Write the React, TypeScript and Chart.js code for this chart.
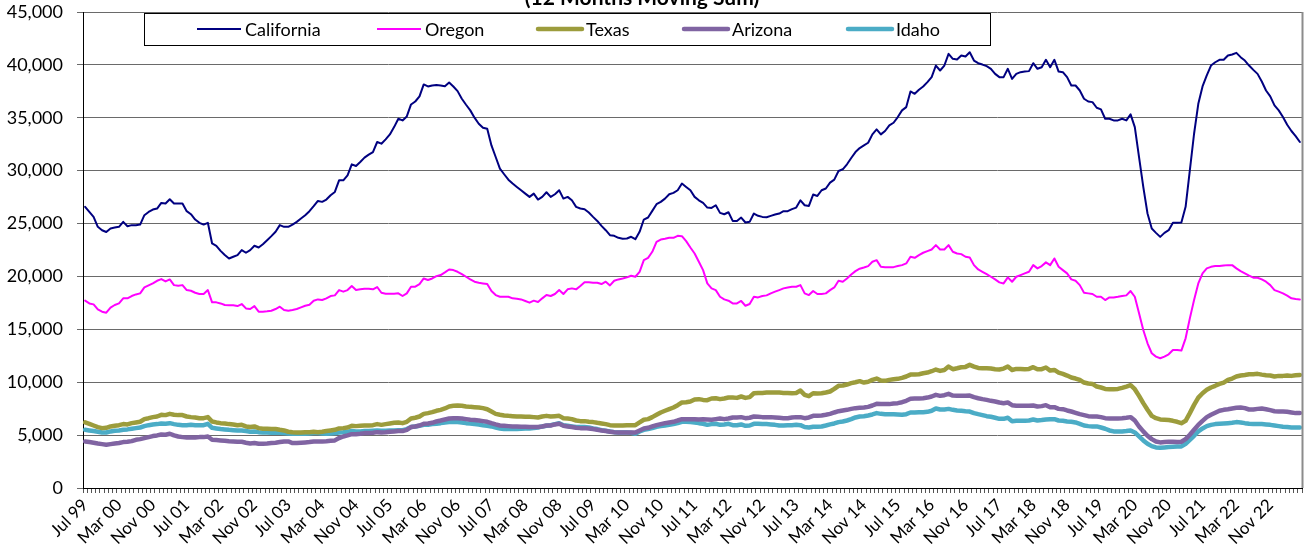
import { useEffect, useRef } from 'react';
import Chart from 'chart.js/auto';

const MONTH_NAMES = ['Jan', 'Feb', 'Mar', 'Apr', 'May', 'Jun', 'Jul', 'Aug', 'Sep', 'Oct', 'Nov', 'Dec'];
const START_YEAR = 1999;
const START_MONTH = 6; // Jul
const LABEL_EVERY = 8;

const TITLE = '(12 Months Moving Sum)';
const SERIES_NAMES = ['California', 'Oregon', 'Texas', 'Arizona', 'Idaho'];
const Y_MAX = 45000;
const Y_STEP = 5000;

const california = [
  26580, 26100, 25630, 24690, 24370, 24200, 24530, 24620, 24690, 25160, 24750, 24850, 24850, 24900, 25790, 26100, 26320, 26420, 26950, 26890, 27300, 26890, 26890, 26890, 26170, 25880, 25380, 25070, 24900, 25070, 23120, 22900, 22420, 22020, 21700, 21860, 22020, 22490, 22240, 22490, 22900, 22740, 23050, 23430, 23810, 24220, 24850, 24690,
  24690, 24900, 25160, 25470, 25790, 26170, 26640, 27140, 27050, 27270, 27680, 27990, 29090, 29090, 29560, 30600, 30440, 30820, 31230, 31510, 31760, 32710, 32550, 32960, 33430, 34120, 34910, 34750, 35130, 36260, 36540, 37020, 38150, 37960, 38050, 38090, 38050, 37990, 38340, 37960, 37520, 36800, 36230, 35700, 35010, 34440, 34060, 33970,
  32390, 31290, 30190, 29660, 29150, 28780, 28460, 28150, 27830, 27520, 27830, 27270, 27520, 27960, 27520, 27770, 28150, 27360, 27520, 27200, 26580, 26420, 26360, 26040, 25630, 25250, 24780, 24370, 23900, 23840, 23650, 23560, 23590, 23750, 23520, 24220, 25380, 25570, 26200, 26830, 27050, 27360, 27770, 27900, 28150, 28780, 28460, 28150,
  27520, 27200, 26950, 26510, 26480, 26730, 26010, 25880, 26070, 25250, 25250, 25570, 25100, 25160, 25950, 25730, 25630, 25600, 25730, 25850, 25950, 26170, 26170, 26360, 26510, 27200, 26730, 26670, 27740, 27610, 28150, 28310, 28870, 29150, 29970, 30130, 30600, 31200, 31760, 32140, 32390, 32640, 33430, 33900, 33430, 33750, 34280, 34530,
  35070, 35700, 36010, 37490, 37270, 37650, 37960, 38370, 38840, 39940, 39470, 39940, 41040, 40570, 40510, 40890, 40790, 41200, 40410, 40160, 40030, 39880, 39630, 39150, 38840, 38840, 39630, 38680, 39150, 39310, 39370, 39410, 40160, 39630, 39780, 40480, 39780, 40480, 39370, 39310, 38840, 38050, 38050, 37580, 36800, 36540, 36480,
  35950, 35790, 34910, 34910, 34750, 34750, 34910, 34750, 35320, 34120, 31290, 28460, 25950, 24530, 24120, 23740, 24120, 24370, 25070, 25070, 25100, 26580, 30030, 33490, 36320, 37960, 39000, 39940, 40250, 40480, 40480, 40890, 40980, 41140, 40730, 40410, 39940, 39530, 39150, 38430, 37580, 37020, 36170, 35700, 35070, 34340, 33750, 33270, 32710,
];

const oregon = [
  17710, 17450, 17360, 16890, 16670, 16570, 17050, 17300, 17450, 17930, 17930, 18150, 18300, 18400, 18960, 19150, 19340, 19590, 19750, 19530, 19720, 19180, 19120, 19180, 18710, 18650, 18460, 18340, 18340, 18710, 17550, 17550, 17450, 17300, 17270, 17270, 17200, 17390, 16980, 16920, 17200, 16670, 16670, 16700, 16760, 16920, 17140, 16830,
  16760, 16830, 16920, 17080, 17230, 17330, 17710, 17830, 17770, 17930, 18150, 18210, 18710, 18560, 18710, 19090, 18710, 18780, 18840, 18840, 18780, 19000, 18460, 18370, 18370, 18370, 18400, 18150, 18400, 19030, 19030, 19280, 19810, 19660, 19810, 20030, 20130, 20380, 20660, 20600, 20440, 20220, 19970, 19720, 19500, 19400, 19340, 19280,
  18620, 18240, 18080, 18080, 18080, 17930, 17900, 17830, 17680, 17520, 17710, 17580, 17930, 18240, 18150, 18340, 18710, 18340, 18780, 18870, 18780, 19090, 19440, 19440, 19400, 19400, 19280, 19500, 19150, 19590, 19720, 19810, 19910, 20070, 19970, 20440, 21540, 21760, 22330, 23270, 23490, 23560, 23650, 23650, 23840, 23810, 23340, 22740,
  22170, 21390, 20600, 19340, 18870, 18710, 18080, 17830, 17710, 17450, 17450, 17680, 17230, 17390, 18080, 18020, 18150, 18210, 18400, 18560, 18710, 18870, 18960, 19030, 19030, 19180, 18400, 18240, 18620, 18340, 18340, 18400, 18710, 18960, 19590, 19500, 19810, 20190, 20500, 20730, 20850, 20980, 21390, 21540, 20910, 20880, 20880, 20880,
  20980, 21070, 21230, 21860, 21760, 22020, 22240, 22390, 22550, 22960, 22550, 22550, 22960, 22330, 22170, 22110, 21860, 21800, 21070, 20660, 20440, 20220, 19970, 19720, 19440, 19340, 19910, 19500, 19970, 20130, 20290, 20440, 21070, 20760, 20980, 21330, 21070, 21700, 20910, 20600, 20290, 19720, 19590, 19180, 18460, 18400, 18340,
  18080, 18080, 17770, 18020, 18020, 18080, 18150, 18210, 18620, 18080, 16510, 14940, 13680, 12740, 12420, 12270, 12420, 12640, 13050, 13050, 12990, 14150, 16040, 17770, 19340, 20290, 20760, 20910, 20980, 20980, 21040, 21070, 21070, 20760, 20500, 20290, 20070, 19880, 19880, 19720, 19500, 19180, 18710, 18560, 18400, 18180, 17930, 17860, 17830,
];

const texas = [
  6200, 6070, 5910, 5760, 5660, 5690, 5820, 5880, 5940, 6040, 6010, 6130, 6200, 6260, 6510, 6600, 6700, 6760, 6920, 6890, 7010, 6920, 6890, 6890, 6760, 6700, 6670, 6600, 6600, 6700, 6290, 6200, 6130, 6100, 6040, 6010, 5940, 5970, 5820, 5760, 5820, 5660, 5600, 5600, 5570, 5570, 5500, 5440,
  5320, 5280, 5250, 5250, 5280, 5280, 5320, 5280, 5320, 5380, 5440, 5500, 5630, 5660, 5720, 5880, 5850, 5880, 5910, 5910, 5940, 6040, 5970, 6040, 6100, 6160, 6200, 6130, 6260, 6570, 6640, 6760, 7010, 7080, 7170, 7300, 7390, 7520, 7710, 7770, 7800, 7770, 7710, 7670, 7640, 7610, 7550, 7450,
  7230, 7010, 6920, 6860, 6820, 6790, 6760, 6760, 6730, 6730, 6700, 6670, 6760, 6820, 6760, 6790, 6820, 6600, 6570, 6510, 6380, 6320, 6320, 6260, 6230, 6160, 6100, 6040, 5940, 5910, 5910, 5910, 5940, 5940, 5940, 6200, 6450, 6510, 6700, 6920, 7140, 7300, 7450, 7610, 7830, 8080, 8110, 8180,
  8370, 8400, 8330, 8300, 8460, 8490, 8400, 8460, 8550, 8550, 8520, 8650, 8520, 8590, 8960, 8990, 8990, 9030, 9030, 9030, 9030, 8990, 8990, 8960, 8990, 9210, 8810, 8680, 8960, 8930, 8960, 9030, 9120, 9370, 9660, 9690, 9780, 9910, 10000, 10100, 9970, 10040, 10220, 10350, 10160, 10130, 10220, 10280,
  10320, 10410, 10540, 10720, 10720, 10760, 10850, 10910, 11040, 11200, 11070, 11160, 11480, 11230, 11320, 11420, 11450, 11640, 11480, 11350, 11320, 11320, 11290, 11230, 11200, 11290, 11480, 11160, 11260, 11260, 11230, 11260, 11420, 11230, 11230, 11390, 11100, 11160, 10910, 10790, 10630, 10440, 10350, 10220, 9970, 9880, 9840,
  9590, 9500, 9370, 9340, 9340, 9370, 9470, 9590, 9720, 9340, 8710, 8020, 7390, 6820, 6600, 6480, 6450, 6420, 6350, 6260, 6130, 6350, 7080, 7860, 8550, 8960, 9280, 9500, 9660, 9840, 9970, 10220, 10350, 10540, 10630, 10690, 10760, 10760, 10790, 10720, 10660, 10630, 10540, 10600, 10600, 10630, 10600, 10660, 10690,
];

const arizona = [
  4400, 4340, 4280, 4210, 4150, 4090, 4150, 4210, 4250, 4340, 4370, 4430, 4560, 4620, 4720, 4810, 4910, 4970, 5060, 5030, 5130, 4970, 4870, 4810, 4780, 4780, 4780, 4810, 4810, 4870, 4560, 4530, 4500, 4470, 4430, 4400, 4370, 4370, 4280, 4210, 4250, 4180, 4180, 4210, 4250, 4280, 4340, 4400,
  4400, 4250, 4250, 4280, 4310, 4340, 4400, 4400, 4400, 4430, 4470, 4500, 4720, 4870, 4970, 5090, 5090, 5130, 5190, 5190, 5220, 5280, 5250, 5280, 5320, 5350, 5380, 5380, 5500, 5760, 5820, 5910, 6070, 6100, 6160, 6290, 6380, 6480, 6570, 6600, 6600, 6570, 6510, 6450, 6420, 6380, 6320, 6260,
  6130, 6010, 5910, 5880, 5850, 5820, 5820, 5790, 5790, 5760, 5760, 5760, 5820, 5910, 5910, 6010, 6070, 5880, 5820, 5760, 5690, 5660, 5660, 5630, 5570, 5500, 5440, 5380, 5320, 5280, 5250, 5250, 5250, 5250, 5250, 5440, 5630, 5690, 5820, 5940, 6040, 6130, 6200, 6260, 6380, 6510, 6510, 6510,
  6510, 6480, 6510, 6480, 6450, 6510, 6570, 6510, 6570, 6670, 6670, 6700, 6600, 6640, 6760, 6730, 6700, 6700, 6700, 6670, 6640, 6600, 6600, 6670, 6700, 6700, 6600, 6670, 6820, 6820, 6860, 6920, 7010, 7140, 7260, 7330, 7390, 7480, 7550, 7580, 7610, 7670, 7800, 7960, 7930, 7930, 7930, 7990,
  8020, 8110, 8240, 8430, 8460, 8460, 8490, 8550, 8650, 8810, 8710, 8770, 8900, 8740, 8710, 8710, 8710, 8740, 8590, 8490, 8400, 8330, 8240, 8180, 8080, 8020, 8080, 7830, 7770, 7770, 7770, 7770, 7800, 7710, 7740, 7830, 7640, 7640, 7480, 7450, 7330, 7230, 7110, 6980, 6890, 6790, 6760,
  6760, 6700, 6600, 6570, 6570, 6570, 6600, 6640, 6700, 6380, 5820, 5350, 4940, 4620, 4400, 4310, 4340, 4370, 4370, 4340, 4370, 4620, 5030, 5500, 5970, 6350, 6700, 6920, 7110, 7300, 7390, 7450, 7520, 7580, 7610, 7550, 7420, 7420, 7480, 7520, 7450, 7360, 7260, 7230, 7230, 7200, 7140, 7080, 7080,
];

const idaho = [
  5500, 5440, 5380, 5320, 5250, 5250, 5350, 5410, 5440, 5500, 5540, 5600, 5660, 5720, 5850, 5940, 6010, 6040, 6100, 6070, 6130, 6040, 5970, 5940, 5940, 5970, 5940, 5940, 5940, 6070, 5690, 5630, 5570, 5540, 5500, 5470, 5440, 5440, 5380, 5320, 5350, 5280, 5250, 5250, 5220, 5220, 5220, 5190,
  5160, 5130, 5130, 5130, 5130, 5160, 5190, 5190, 5160, 5130, 5160, 5190, 5250, 5280, 5320, 5380, 5350, 5350, 5380, 5380, 5410, 5440, 5410, 5410, 5440, 5440, 5470, 5470, 5570, 5760, 5820, 5880, 5970, 5970, 6040, 6070, 6130, 6200, 6230, 6230, 6230, 6200, 6130, 6100, 6040, 6010, 5940, 5880,
  5820, 5720, 5630, 5570, 5570, 5570, 5570, 5600, 5630, 5630, 5660, 5720, 5820, 5880, 5940, 6040, 6130, 5940, 5880, 5820, 5760, 5760, 5760, 5720, 5630, 5570, 5470, 5410, 5350, 5280, 5250, 5250, 5250, 5220, 5130, 5350, 5500, 5570, 5660, 5790, 5850, 5910, 5970, 6040, 6130, 6260, 6260, 6230,
  6200, 6130, 6070, 5970, 6040, 6070, 5970, 6010, 6070, 5940, 5940, 6010, 5880, 5910, 6070, 6070, 6040, 6040, 6010, 5970, 5910, 5910, 5940, 5940, 5970, 5940, 5760, 5720, 5790, 5790, 5820, 5910, 6010, 6100, 6230, 6290, 6380, 6510, 6670, 6760, 6790, 6860, 6950, 7080, 7010, 6980, 6980, 6980,
  6950, 6920, 6980, 7140, 7140, 7170, 7170, 7200, 7300, 7520, 7420, 7420, 7480, 7390, 7330, 7300, 7260, 7230, 7080, 6980, 6890, 6790, 6730, 6640, 6540, 6540, 6640, 6320, 6350, 6350, 6350, 6380, 6480, 6380, 6420, 6480, 6510, 6510, 6380, 6350, 6290, 6260, 6200, 6070, 5910, 5850, 5820,
  5820, 5720, 5600, 5440, 5350, 5350, 5350, 5380, 5440, 5250, 4870, 4500, 4180, 3960, 3840, 3810, 3840, 3870, 3900, 3930, 3930, 4180, 4560, 4940, 5350, 5630, 5850, 5970, 6040, 6070, 6100, 6130, 6160, 6230, 6200, 6130, 6070, 6040, 6040, 6040, 6010, 5970, 5910, 5850, 5790, 5760, 5720, 5720, 5720,
];

const categories: string[] = california.map((_, i) => {
  const m = (START_MONTH + i) % 12;
  const y = START_YEAR + Math.floor((START_MONTH + i) / 12);
  return `${MONTH_NAMES[m]} ${String(y % 100).padStart(2, '0')}`;
});

const COLORS = ['#000080', '#FF00FF', '#9C9C3C', '#8064A2', '#4BACC6'];
const WIDTHS = [2, 2, 4.5, 4.5, 4.5];
const FONT = 'Lato';

export default function App() {
  const ref = useRef<HTMLCanvasElement | null>(null);

  useEffect(() => {
    if (!ref.current) return;
    const seriesData = [california, oregon, texas, arizona, idaho];

    const overlay = {
      id: 'overlay',
      afterDraw(chart: any) {
        const { ctx, chartArea } = chart;
        ctx.save();
        // right plot border
        ctx.strokeStyle = '#8c8c8c';
        ctx.lineWidth = 2;
        ctx.beginPath();
        ctx.moveTo(chartArea.right + 0.5, chartArea.top);
        ctx.lineTo(chartArea.right + 0.5, chartArea.bottom);
        ctx.stroke();

        // clipped title
        ctx.fillStyle = '#000';
        ctx.font = `bold 21px ${FONT}`;
        ctx.textAlign = 'center';
        ctx.textBaseline = 'alphabetic';
        ctx.fillText(TITLE, 642, 5);

        // legend box
        const bx = 144, by = 13, bw = 846, bh = 32;
        ctx.fillStyle = '#fff';
        ctx.fillRect(bx, by, bw, bh);
        ctx.strokeStyle = '#000';
        ctx.lineWidth = 1;
        ctx.strokeRect(bx + 0.5, by + 0.5, bw, bh);

        const itemX = [197, 377, 538, 684, 848];
        const cy = 29;
        ctx.font = `18px ${FONT}`;
        ctx.textAlign = 'left';
        ctx.textBaseline = 'middle';
        SERIES_NAMES.forEach((name, k) => {
          ctx.strokeStyle = COLORS[k];
          ctx.lineWidth = WIDTHS[k];
          ctx.lineCap = k >= 2 ? 'round' : 'butt';
          ctx.beginPath();
          ctx.moveTo(itemX[k], cy);
          ctx.lineTo(itemX[k] + 44, cy);
          ctx.stroke();
          ctx.fillStyle = '#000';
          ctx.fillText(name, itemX[k] + 48, cy + 1);
        });
        ctx.restore();
      },
    };

    const chart = new Chart(ref.current, {
      type: 'line',
      data: {
        labels: categories,
        datasets: SERIES_NAMES.map((name, k) => ({
          label: name,
          data: seriesData[k],
          borderColor: COLORS[k],
          backgroundColor: COLORS[k],
          borderWidth: WIDTHS[k],
          pointRadius: 0,
          pointHoverRadius: 0,
          tension: 0,
          fill: false,
          borderJoinStyle: 'round' as const,
          borderCapStyle: 'round' as const,
        })),
      },
      options: {
        animation: false,
        responsive: true,
        maintainAspectRatio: false,
        layout: { padding: { top: 12, right: 11, left: 0, bottom: 0 } },
        plugins: {
          legend: { display: false },
          title: { display: false },
          tooltip: { enabled: false },
        },
        events: [],
        scales: {
          x: {
            type: 'category',
            offset: true,
            ticks: {
              autoSkip: false,
              maxRotation: 45,
              minRotation: 45,
              color: '#000',
              padding: 2,
              font: { family: FONT, size: 17 },
              callback: (_v: any, i: number) => (i % LABEL_EVERY === 0 ? categories[i] : ''),
            },
            grid: {
              drawOnChartArea: false,
              offset: true,
              tickLength: 5,
              color: '#555',
              lineWidth: 1,
            },
            border: { color: '#000', width: 1 },
            afterFit: (s: any) => {
              s.height = 68;
              s.paddingLeft = 0;
              s.paddingRight = 0;
              s.paddingTop = 0;
              s.paddingBottom = 0;
            },
          },
          y: {
            min: 0,
            max: Y_MAX,
            ticks: {
              stepSize: Y_STEP,
              color: '#000',
              padding: 14,
              font: { family: FONT, size: 18 },
              callback: (v: any) => Number(v).toLocaleString('en-US'),
            },
            grid: { color: '#6a6a6a', lineWidth: 1, tickLength: 6 },
            border: { color: '#000', width: 1 },
            afterFit: (s: any) => {
              s.width = 83;
              s.paddingTop = 0;
              s.paddingBottom = 0;
              s.paddingLeft = 0;
              s.paddingRight = 0;
            },
          },
        },
      },
      plugins: [overlay],
    });

    return () => chart.destroy();
  }, []);

  return (
    <div style={{ position: 'absolute', left: 0, top: 0, width: 1313, height: 556, background: '#fff' }}>
      <canvas ref={ref} />
    </div>
  );
}
